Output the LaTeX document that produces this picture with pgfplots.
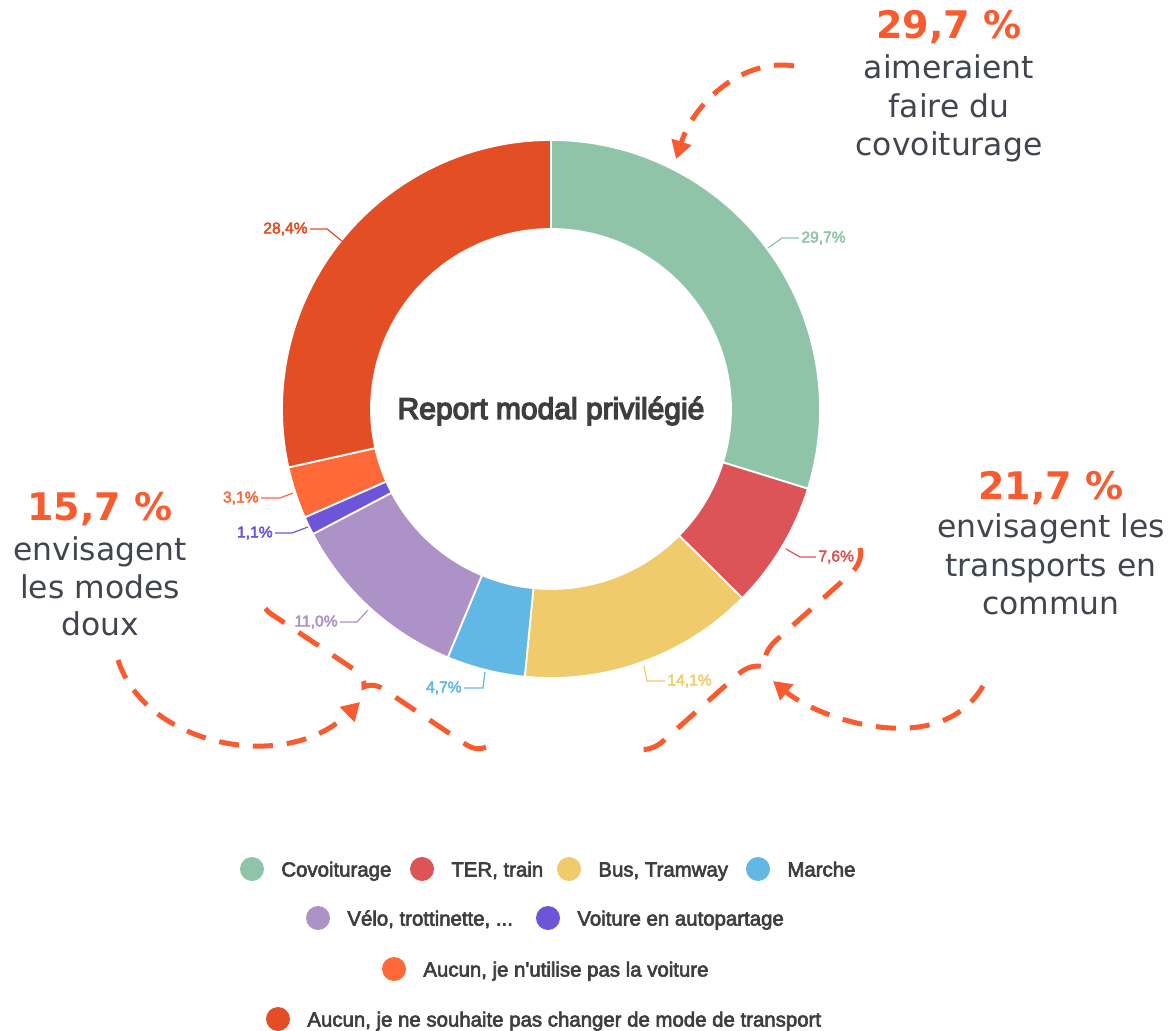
\documentclass[border=0pt]{standalone}
\usepackage{pgfplots}
\pgfplotsset{compat=1.18}
\usepackage{fontspec}
\setmainfont{Liberation Sans}
\newfontfamily\annfont{DejaVu Sans}
\newfontfamily\medfont[FakeBold=3]{Liberation Sans}
\newfontfamily\titfont[FakeBold=4.5]{Liberation Sans}
\usetikzlibrary{calc,arrows.meta,decorations.pathreplacing}

\definecolor{cCov}{HTML}{8FC4A8}
\definecolor{cTer}{HTML}{DC5457}
\definecolor{cBus}{HTML}{EFCB6B}
\definecolor{cMar}{HTML}{62B8E5}
\definecolor{cVel}{HTML}{AD92C7}
\definecolor{cAut}{HTML}{6D55DA}
\definecolor{cAu1}{HTML}{FE6937}
\definecolor{cAu2}{HTML}{E44E24}
\definecolor{cOr}{HTML}{F95B2E}
\definecolor{cTxt}{HTML}{41454D}
\definecolor{cLeg}{HTML}{3E3E3E}

% one ring slice: colour, share before it, share (total 99.7)
\newcommand\slice[3]{%
  \pgfmathsetmacro\aA{90-(#2)/99.7*360}%
  \pgfmathsetmacro\aB{90-(#2+#3)/99.7*360}%
  \edef\tmp{\noexpand\fill[#1, draw=white, line width=0.9pt]
    (axis cs:551,409) ++(\aA:134.5pt)
    arc[start angle=\aA, end angle=\aB, radius=134.5pt]
    -- ($(axis cs:551,409)+(\aB:90pt)$)
    arc[start angle=\aB, end angle=\aA, radius=90pt] -- cycle;}%
  \tmp}

% leader line and label: colour, p1, p2, p3, anchor, text
\newcommand\lab[6]{%
  \draw[#1, line width=0.6pt] (axis cs:#2) -- (axis cs:#3) -- (axis cs:#4);
  \node[#1, anchor=#5, inner sep=1pt, font=\medfont\fontsize{7.8pt}{9pt}\selectfont] at (axis cs:#4) {#6};}

% legend entry: colour, circle x, y, text
\newcommand\leg[4]{%
  \fill[#1] (axis cs:#2,#3) circle[radius=6pt];
  \node[cLeg, anchor=base west, inner sep=0pt, font=\medfont\fontsize{10.2pt}{12pt}\selectfont]
    at (axis cs:#2+29,#3+7.5) {#4};}

\tikzset{ann/.style={cOr, line width=2.5pt, dash pattern=on 10pt off 7pt},
  num/.style={cOr, anchor=base, inner sep=0pt, font=\annfont\bfseries\fontsize{19pt}{22pt}\selectfont},
  txt/.style={cTxt, anchor=base, inner sep=0pt, font=\annfont\fontsize{15.7pt}{19pt}\selectfont}}

\begin{document}
\begin{tikzpicture}
\begin{axis}[hide axis, scale only axis, width=586pt, height=515.5pt,
  xmin=0, xmax=1172, ymin=0, ymax=1031, y dir=reverse, clip=false]
\coordinate (BL) at (axis cs:0,1031);
\coordinate (TR) at (axis cs:1172,0);

\slice{cCov}{0}{29.7}
\slice{cTer}{29.7}{7.6}
\slice{cBus}{37.3}{14.1}
\slice{cMar}{51.4}{4.7}
\slice{cVel}{56.1}{11.0}
\slice{cAut}{67.1}{1.1}
\slice{cAu1}{68.2}{3.1}
\slice{cAu2}{71.3}{28.4}

\lab{cCov}{768,248}{782,238}{799,238}{west}{29,7\%}
\lab{cTer}{786,549}{800,557}{816,557}{west}{7,6\%}
\lab{cBus}{644,666}{647,681}{665,681}{west}{14,1\%}
\lab{cMar}{485,672}{483,688}{464,688}{east}{4,7\%}
\lab{cVel}{368,610}{357,622}{340,622}{east}{11,0\%}
\lab{cAut}{308,527}{292,533}{275,533}{east}{1,1\%}
\lab{cAu1}{293,493}{280,498}{261,498}{east}{3,1\%}
\lab{cAu2}{342,241}{327,229}{310,229}{east}{28,4\%}

\node[cLeg, anchor=base, inner sep=0pt, font=\titfont\fontsize{15pt}{18pt}\selectfont]
  at (axis cs:551,419) {Report modal privilégié};

\leg{cCov}{252}{869}{Covoiturage}
\leg{cTer}{422}{869}{TER, train}
\leg{cBus}{569}{869}{Bus, Tramway}
\leg{cMar}{758}{869}{Marche}
\leg{cVel}{318}{918}{Vélo, trottinette, ...}
\leg{cAut}{548}{918}{Voiture en autopartage}
\leg{cAu1}{394}{969}{Aucun, je n'utilise pas la voiture}
\leg{cAu2}{278}{1019}{Aucun, je ne souhaite pas changer de mode de transport}

% annotations
\node[num] at (axis cs:949,39) {29,7 \%};
\node[txt] at (axis cs:949,79) {aimeraient};
\node[txt] at (axis cs:949,118) {faire du};
\node[txt] at (axis cs:949,156) {covoiturage};

\node[num] at (axis cs:100,521) {15,7 \%};
\node[txt] at (axis cs:100,560) {envisagent};
\node[txt] at (axis cs:100,598) {les modes};
\node[txt] at (axis cs:100,635) {doux};

\node[num] at (axis cs:1051,500) {21,7 \%};
\node[txt] at (axis cs:1051,538) {envisagent les};
\node[txt] at (axis cs:1051,576) {transports en};
\node[txt] at (axis cs:1051,614) {commun};

\draw[ann, -{Triangle[length=9pt,width=10pt]}] (axis cs:794,66)
  .. controls (axis cs:745,58) and (axis cs:695,100) .. (axis cs:676,159);
\draw[ann, -{Triangle[length=9pt,width=10pt]}] (axis cs:118,660)
  .. controls (axis cs:145,745) and (axis cs:285,775) .. (axis cs:360,702);
\draw[ann, -{Triangle[length=9pt,width=10pt]}] (axis cs:983,686)
  .. controls (axis cs:940,760) and (axis cs:820,720) .. (axis cs:773,681);

\draw[ann, dash pattern=on 12pt off 8.5pt, decorate,
  decoration={brace, amplitude=9pt, aspect=0.5}] (axis cs:486,747) -- (axis cs:262,597);
\draw[ann, dash pattern=on 12pt off 8.5pt, decorate,
  decoration={brace, amplitude=13pt, aspect=0.5}] (axis cs:860,548) -- (axis cs:636,748);
\end{axis}
\pgfresetboundingbox
\useasboundingbox (BL) rectangle (TR);
\end{tikzpicture}
\end{document}
